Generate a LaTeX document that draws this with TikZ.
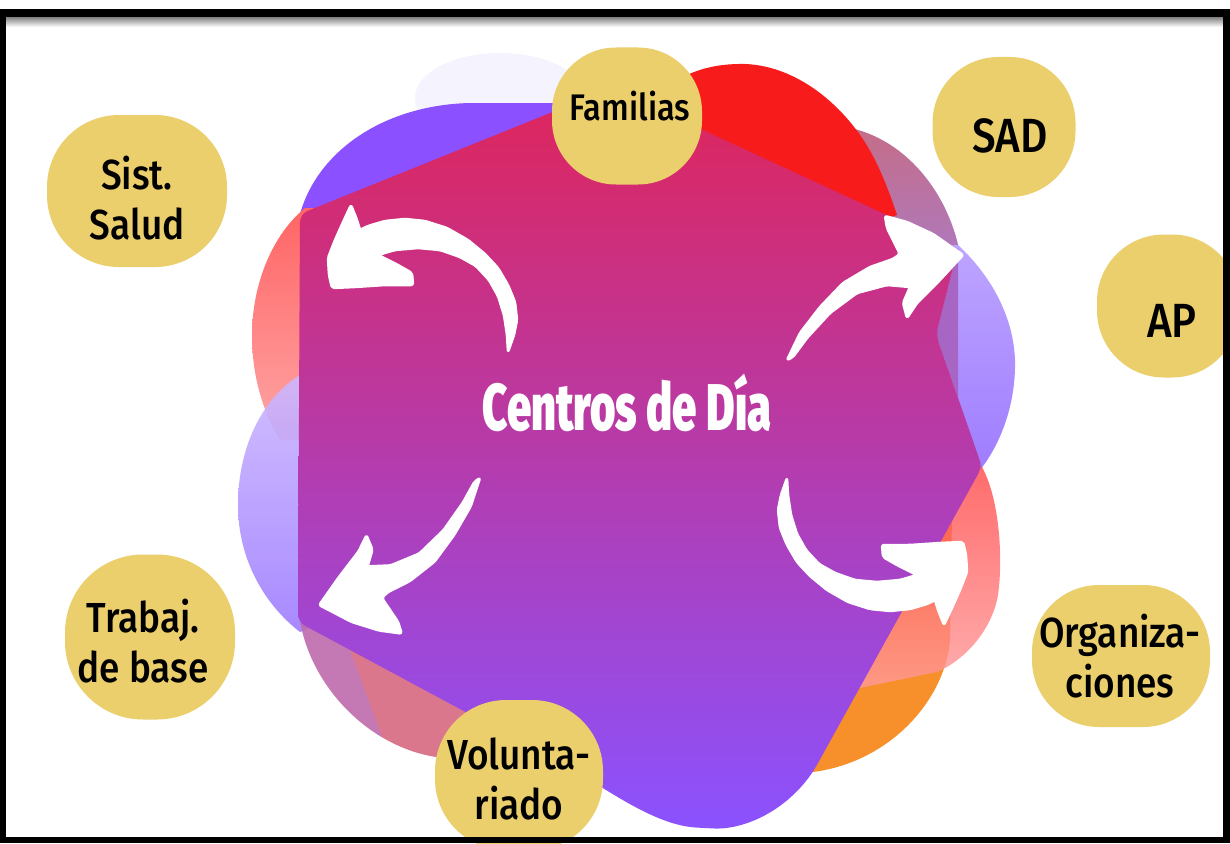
\documentclass[tikz,border=0pt]{standalone}
\usepackage{fontspec}
\setmainfont{Fira Sans}
\newfontfamily\labfont[FakeStretch=0.88]{Fira Sans Medium}
\newfontfamily\ctrfont[FakeStretch=0.66]{Fira Sans Black}
\definecolor{yel}{HTML}{EBCF6D}
\definecolor{mainTop}{HTML}{DF255A}
\definecolor{mainMid}{HTML}{AE43B4}
\definecolor{mainBot}{HTML}{8A52FF}
\definecolor{purp}{HTML}{8B50FF}
\definecolor{redA}{HTML}{F81B1B}
\definecolor{mauveTop}{HTML}{C56D88}
\definecolor{mauveBot}{HTML}{B078B8}
\definecolor{lavTop}{HTML}{CDB9FF}
\definecolor{lavBot}{HTML}{9F7DFF}
\definecolor{band}{HTML}{A766C4}
\definecolor{salTop}{HTML}{FF6565}
\definecolor{salBot}{HTML}{FFA5A5}
\definecolor{coral}{HTML}{D4607A}
\definecolor{orng}{HTML}{F78F2A}
\definecolor{redRTop}{HTML}{FF4848}
\definecolor{redRBot}{HTML}{FF9C9C}
\definecolor{glow}{HTML}{F5F3FD}
\tikzset{
  yblob/.style={rectangle, fill=yel, inner sep=0pt},
  lab/.style={font=\labfont\fontsize{42pt}{50pt}\selectfont, align=center, text=black, inner sep=0pt},
  arrowbody/.style={fill=white, draw=white, line width=2.5pt, line join=round, rounded corners=2pt},
  hookarrow/.pic={
    \filldraw[arrowbody] (1,0) -- (7,-17) -- (10,-32) -- (8,-50) -- (1,-67) -- (-9,-84) -- (-22,-98) -- (-39,-112) -- (-60,-124) -- (-82,-131) -- (-102,-133) -- (-122,-131) -- (-139,-126) -- (-147,-122) -- (-150,-132) -- (-156,-147) -- (-163,-132) -- (-172,-112) -- (-179,-94) -- (-178,-77) -- (-175,-64) -- (-152,-65) -- (-122,-67) -- (-94,-67) -- (-95,-79) -- (-109,-87) -- (-129,-97) -- (-112,-102) -- (-89,-104) -- (-67,-102) -- (-47,-95) -- (-31,-86) -- (-18,-72) -- (-9,-56) -- (-3,-37) -- (0,-17) -- cycle;
  },
  diagarrow/.pic={
    \filldraw[arrowbody] (0,0) -- (13,-27) -- (33,-53) -- (56,-77) -- (83,-93) -- (106,-101) -- (113,-106) -- (100,-132) -- (98,-144) -- (120,-138) -- (146,-126) -- (176,-105) -- (153,-80) -- (130,-57) -- (120,-42) -- (116,-57) -- (123,-73) -- (100,-75) -- (70,-67) -- (43,-47) -- (20,-22) -- (6,-3) -- cycle;
  }
}
\begin{document}
\begin{tikzpicture}[x=1pt,y=-1pt]
\useasboundingbox (0,0) rectangle (1230,843);
\fill[white] (0,0) rectangle (1230,843);
% faint glow
\fill[glow] (500,98) ellipse [x radius=85, y radius=45];
% top purple blob
\fill[purp] (300,214) .. controls (318,150) and (385,105) .. (470,103) -- (600,103) -- (600,200) -- cycle;
% right lavender blob
\shade[top color=lavTop, bottom color=lavBot] (850,128) .. controls (905,140) and (945,190) .. (958,245) .. controls (985,270) and (1013,310) .. (1015,360) .. controls (1016,405) and (1000,445) .. (980,470) -- (900,470) -- (840,250) -- cycle;
% mauve overlap top right
\shade[top color=mauveTop, bottom color=mauveBot] (850,128) .. controls (905,140) and (945,190) .. (958,245) -- (840,240) -- cycle;
% top red blob
\fill[redA] (640,140) .. controls (650,80) and (700,63) .. (745,64) .. controls (800,66) and (850,110) .. (875,160) .. controls (885,180) and (892,200) .. (897,215) -- (800,250) -- cycle;
% band right
\fill[band] (958,248) -- (958,465) -- (982,467) -- (936,335) -- cycle;
% left salmon blob
\shade[top color=salTop, bottom color=salBot] (305,208) .. controls (272,235) and (252,285) .. (252,335) .. controls (252,375) and (262,410) .. (280,440) -- (330,440) -- (330,208) -- cycle;
% left lavender blob
\shade[top color=lavTop, bottom color=lavBot, opacity=0.9] (300,375) .. controls (260,400) and (238,450) .. (238,505) .. controls (238,560) and (265,605) .. (300,632) -- (380,600) -- (340,375) -- cycle;
% bottom-left coral blob
\fill[coral, opacity=0.85] (298,600) .. controls (300,680) and (370,752) .. (445,758) -- (520,758) -- (520,650) -- cycle;
\begin{scope}
  \clip (298,600) .. controls (300,680) and (370,752) .. (445,758) -- (520,758) -- (520,650) -- cycle;
  \fill[lavBot, opacity=0.35] (290,615) -- (350,650) -- (385,745) -- (280,760) -- cycle;
\end{scope}
% orange blob
\fill[orng] (952,515) -- (950,640) .. controls (945,700) and (890,762) .. (813,772) -- (800,600) -- cycle;
% right red blob
\shade[top color=redRTop, bottom color=redRBot, opacity=0.8] (982,467) .. controls (1000,500) and (1003,560) .. (998,595) .. controls (992,630) and (965,660) .. (937,672) -- (850,690) -- (900,470) -- cycle;
% main shape
\shade[top color=mainTop, middle color=mainMid, bottom color=mainBot, rounded corners=8pt] (298,600) -- (300,214) -- (612,88) -- (958,248) -- (936,335) -- (982,467) -- (813,772) .. controls (780,815) and (740,830) .. (705,828) .. controls (665,826) and (630,805) .. (590,780) -- (540,752) -- (298,622) -- cycle;
% arrows
\pic at (507,352) {hookarrow};
\pic[rotate=180] at (788,478) {hookarrow};
\pic at (787,360) {diagarrow};
\pic[rotate=187.5] at (480,478) {diagarrow};
% centre text
\node[anchor=base, text=white, inner sep=0pt, font=\ctrfont\fontsize{66pt}{66pt}\selectfont] (ctr) at (627,430) {Centros de Día};
% yellow blobs
\node[yblob, minimum width=150pt, minimum height=137pt, rounded corners=64pt] (famB) at (627,116) {};
\node[yblob, minimum width=143pt, minimum height=140pt, rounded corners=66pt] (sadB) at (1004,127) {};
\node[yblob, minimum width=180pt, minimum height=152pt, rounded corners=72pt] (saludB) at (137,191) {};
\node[yblob, minimum width=142pt, minimum height=143pt, rounded corners=67pt] (apB) at (1168,306) {};
\node[yblob, minimum width=178pt, minimum height=142pt, rounded corners=67pt] (orgB) at (1121,656) {};
\node[yblob, minimum width=170pt, minimum height=165pt, rounded corners=78pt] (trabB) at (150,637) {};
\node[yblob, minimum width=168pt, minimum height=150pt, rounded corners=71pt] (volB) at (519,775) {};
% labels
\node[lab, anchor=base, font=\labfont\fontsize{37pt}{44pt}\selectfont] (fam) at (630,120) {Familias};
\node[lab, anchor=base, font=\labfont\fontsize{48pt}{56pt}\selectfont] (sad) at (1010,152) {SAD};
\node[lab, anchor=base, font=\labfont\fontsize{48pt}{56pt}\selectfont] (ap) at (1172,337) {AP};
\node[lab] (salud) at (137,198) {Sist.\\Salud};
\node[lab] (org) at (1120,656) {Organiza-\\ciones};
\node[lab] (trab) at (143,641) {Trabaj.\\de base};
\node[lab] (vol) at (519,779) {Volunta-\\riado};
% frame
\fill[black] (0,9) rectangle (1230,18);
\shade[top color=black!45, bottom color=white] (6,18) rectangle (1223,27);
\fill[black] (0,9) rectangle (6,843);
\fill[black] (1223,9) rectangle (1230,843);
\fill[black] (0,837) rectangle (1230,843);
\end{tikzpicture}
\end{document}
